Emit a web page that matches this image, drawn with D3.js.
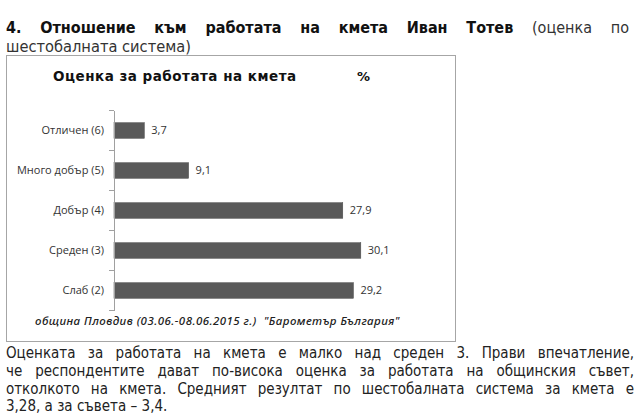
<!DOCTYPE html>
<html>
<head>
<meta charset="utf-8">
<script src="https://cdn.jsdelivr.net/npm/d3@7"></script>
<style>
  body { margin: 0; background: #fff; }
  svg { display: block; }
</style>
</head>
<body>
<div id="chart"></div>
<script>
"use strict";

// data
const categories = ["Отличен (6)", "Много добър (5)", "Добър (4)", "Среден (3)", "Слаб (2)"];
const values = [3.7, 9.1, 27.9, 30.1, 29.2];

const chartTitle = "Оценка за работата на кмета";
const unitLabel = "%";
const sourceNote = "община Пловдив (03.06.-08.06.2015 г.)  \"Барометър България\"";

const headingBold = ["4.", "Отношение", "към", "работата", "на", "кмета", "Иван", "Тотев"];
const headingRegular = ["(оценка", "по"];
const headingLine2 = "шестобалната система)";

const bodyLines = [
  "Оценката за работата на кмета е малко над среден 3. Прави впечатление,",
  "че респондентите дават по-висока оценка за работата на общинския съвет,",
  "отколкото на кмета. Средният резултат по шестобалната система за кмета е",
  "3,28, а за съвета – 3,4."
];

const W = 640, H = 420;
const textFont = "'DejaVu Sans Condensed', 'DejaVu Sans', sans-serif";
const chartFont = "'Open Sans', 'Noto Sans', sans-serif";

const svg = d3.select("#chart")
  .append("svg")
  .attr("width", W)
  .attr("height", H);

///////////////////////////
// justified line helper
///////////////////////////
const justify = (sel, left, right) => {
  const spans = sel.selectAll("tspan").nodes();
  const widths = spans.map((n) => n.getComputedTextLength());
  const total = d3.sum(widths);
  const gap = (right - left - total) / (spans.length - 1);
  let x = left;
  spans.forEach((n, i) => {
    d3.select(n).attr("x", x);
    x += widths[i] + gap;
  });
};

///////////////////////////
// heading
///////////////////////////
const head1 = svg.append("text")
  .attr("y", 33)
  .attr("font-family", textFont)
  .attr("font-size", "16px")
  .attr("fill", "#111");

headingBold.concat(headingRegular).forEach((w, i) => {
  head1.append("tspan")
    .attr("font-weight", i < headingBold.length ? "bold" : "normal")
    .attr("fill", i < headingBold.length ? "#111" : "#333")
    .text(w);
});
justify(head1, 6, 629);

svg.append("text")
  .attr("x", 6)
  .attr("y", 51.5)
  .attr("font-family", textFont)
  .attr("font-size", "16.3px")
  .attr("fill", "#333")
  .text(headingLine2);

///////////////////////////
// chart frame
///////////////////////////
svg.append("rect")
  .attr("x", 6.5)
  .attr("y", 55.5)
  .attr("width", 449)
  .attr("height", 286)
  .attr("fill", "#fff")
  .attr("stroke", "#a6a6a6")
  .attr("stroke-width", 1);

svg.append("text")
  .attr("x", 53)
  .attr("y", 80.5)
  .attr("font-family", "'DejaVu Sans', sans-serif")
  .attr("font-weight", "bold")
  .attr("font-size", "13.5px")
  .attr("letter-spacing", "0.5px")
  .attr("fill", "#111")
  .text(chartTitle);

svg.append("text")
  .attr("x", 357)
  .attr("y", 80.5)
  .attr("font-family", "'DejaVu Sans', sans-serif")
  .attr("font-weight", "bold")
  .attr("font-size", "13px")
  .attr("fill", "#111")
  .text(unitLabel);

///////////////////////////
// scales
///////////////////////////
const x = d3.scaleLinear().domain([0, 35]).range([114, 401]);

const y = d3.scaleBand()
  .domain(categories)
  .range([110.5, 310.5])
  .paddingInner(0.61)
  .paddingOuter(0.305);

// tick marks sit between categories, like the spreadsheet chart
const yEdge = d3.scaleLinear().domain([0, categories.length]).range([110.5, 310.5]);

const g = svg.append("g");

g.selectAll(".bar")
  .data(values)
  .enter()
  .append("rect")
  .attr("class", "bar")
  .attr("x", x(0))
  .attr("y", (d, i) => y(categories[i]))
  .attr("width", (d) => x(d) - x(0))
  .attr("height", y.bandwidth())
  .attr("fill", "#595959")
  .attr("stroke", "#4a4a4a")
  .attr("stroke-width", 0.5);

g.selectAll(".val")
  .data(values)
  .enter()
  .append("text")
  .attr("class", "val")
  .attr("x", (d) => x(d) + 7)
  .attr("y", (d, i) => y(categories[i]) + y.bandwidth() / 2)
  .attr("dy", "0.35em")
  .attr("font-family", chartFont)
  .attr("font-size", "11px")
  .attr("fill", "#333")
  .text((d) => String(d).replace(".", ","));

// axis
const axis = svg.append("g")
  .attr("transform", `translate(${x(0)},0)`)
  .call(d3.axisLeft(y).tickSize(0).tickPadding(10));

axis.select(".domain").attr("stroke", "#a0a0a0");
axis.selectAll("text")
  .attr("font-family", chartFont)
  .attr("font-size", "11px")
  .attr("fill", "#333");

svg.append("g")
  .selectAll("line")
  .data(d3.range(categories.length + 1))
  .enter()
  .append("line")
  .attr("x1", x(0) - 5)
  .attr("x2", x(0))
  .attr("y1", (d) => yEdge(d))
  .attr("y2", (d) => yEdge(d))
  .attr("stroke", "#a0a0a0");

svg.append("text")
  .attr("x", 35)
  .attr("y", 324.5)
  .attr("font-family", "'Noto Sans', sans-serif")
  .attr("font-style", "italic")
  .attr("font-weight", 500)
  .attr("font-size", "11.5px")
  .attr("letter-spacing", "0.45px")
  .attr("fill", "#222")
  .style("white-space", "pre")
  .text(sourceNote);

///////////////////////////
// paragraph below
///////////////////////////
bodyLines.forEach((line, i) => {
  const t = svg.append("text")
    .attr("y", 358 + i * 17.8)
    .attr("font-family", textFont)
    .attr("font-size", "15px")
    .attr("fill", "#222");
  if (i < bodyLines.length - 1) {
    line.split(" ").forEach((w) => t.append("tspan").text(w));
    justify(t, 6, 634);
  } else {
    t.attr("x", 6).text(line);
  }
});
</script>
</body>
</html>
